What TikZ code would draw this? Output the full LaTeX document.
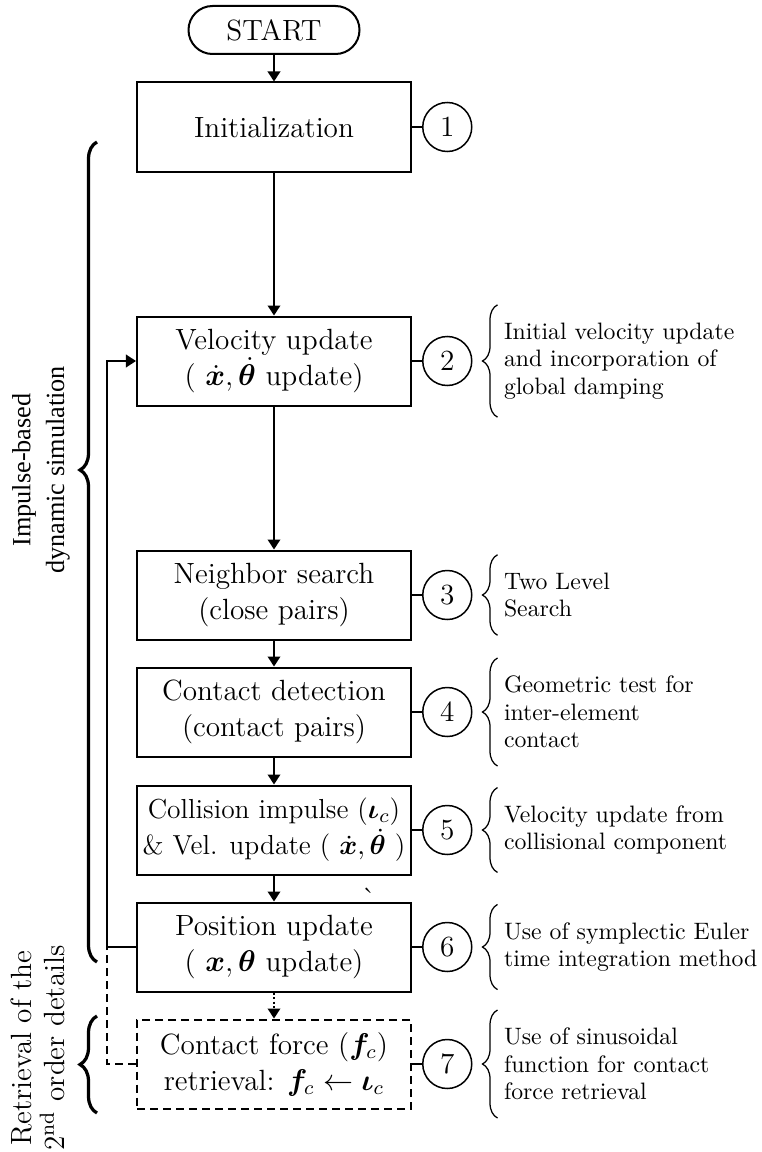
\documentclass[tikz,border=0pt]{standalone}
\usepackage{amsmath,bm}
\usepackage{fontspec}
\newfontfamily\timesfont{Liberation Serif}
\usetikzlibrary{positioning,arrows.meta,calc,decorations.pathreplacing}
\newcommand{\mainsize}{\fontsize{11.7}{14.4}\selectfont}
\newcommand{\notesize}{\fontsize{9.5}{11}\selectfont}
\tikzset{
  stepbox/.style={draw,line width=0.8pt,minimum width=109.6pt,minimum height=35.6pt,
    align=center,inner sep=1pt,font=\mainsize},
  numcirc/.style={draw,circle,line width=0.6pt,minimum size=19.6pt,inner sep=0pt,font=\mainsize},
  note/.style={align=left,inner xsep=2.4pt,inner ysep=7pt,font=\notesize},
  flow/.style={-{Triangle[width=5pt,length=4pt]},line width=0.8pt},
  curly/.style={decorate,decoration={brace,amplitude=6pt}},
}

\begin{document}
\begin{tikzpicture}[x=0.4pt,y=-0.4pt]
\useasboundingbox (0,0) rectangle (761,1152);

% main flow
\node[draw,line width=0.8pt,rounded corners=9.6pt,minimum width=68.4pt,minimum height=19.2pt,
  font=\mainsize] (start) at (274,30) {START};
\node[stepbox] (init) at (274,127) {Initialization};
\node[stepbox] (velo) at (274,361) {Velocity update\\( $\dot{\bm{x}},\dot{\bm{\theta}}$ update)};
\node[stepbox] (nbr)  at (274,595) {Neighbor search\\(close pairs)};
\node[stepbox] (cdet) at (274,712) {Contact detection\\(contact pairs)};
\node[stepbox,inner sep=0pt,font=\fontsize{11}{14.4}\selectfont] (coll) at (274,830)
  {Collision impulse ($\bm{\iota}_c$)\\\& Vel. update ( $\dot{\bm{x}},\dot{\bm{\theta}}$ )};
\node[stepbox] (pos)  at (274,947) {Position update\\( $\bm{x},\bm{\theta}$ update)};
\node[stepbox,dash pattern=on 3.2pt off 2pt] (retr) at (274,1064)
  {Contact force ($\bm{f}_c$)\\retrieval: $\bm{f}_c\leftarrow\bm{\iota}_c$};
\node[font=\mainsize,inner sep=0pt] (tick) at (369,898) {\`{}};

\draw[flow] (start) -- (init);
\draw[flow] (init) -- (velo);
\draw[flow] (velo) -- (nbr);
\draw[flow] (nbr) -- (cdet);
\draw[flow] (cdet) -- (coll);
\draw[flow] (coll) -- (pos);
\draw[flow,densely dotted] (pos) -- (retr);
\draw[flow] (pos.west) -- ++(-29,0) |- (velo.west);
\draw[line width=0.6pt,dash pattern=on 3.2pt off 2pt] (retr.west) -| ($(pos.west)+(-29,0)$);

% step numbers
\foreach \b/\n in {init/1,velo/2,nbr/3,cdet/4,coll/5,pos/6,retr/7}{
  \node[numcirc,right=4pt of \b] (c\n) {\n};
  \draw[line width=0.8pt] (\b.east) -- (c\n);
}

% notes
\foreach \n/\txt in {2/{Initial velocity update\\and incorporation of\\global damping},
    3/{Two Level\\Search},
    4/{Geometric test for\\inter-element\\contact},
    5/{Velocity update from\\collisional component},
    6/{Use of symplectic Euler\\time integration method},
    7/{Use of sinusoidal\\function for contact\\force retrieval}}{
  \node[note,right=10pt of c\n] (n\n) {\txt};
  \draw[curly,line width=0.5pt] (n\n.south west) -- (n\n.north west);
}

% left labels
\coordinate (simtop) at (97,142);
\coordinate (simbot) at (97,962);
\draw[curly,line width=1.3pt,decoration={amplitude=6.8pt,aspect=0.6}] (simbot) -- (simtop);
\node[rotate=90,align=center,font=\timesfont\fontsize{10.5}{13.5}\selectfont] (simlbl) at (41,470)
  {Impulse-based\\dynamic simulation};
\coordinate (rettop) at (97,1016);
\coordinate (retbot) at (97,1113);
\draw[curly,line width=1.3pt,decoration={amplitude=6.8pt}] (retbot) -- (rettop);
\node[rotate=90,align=center,font=\fontsize{11.7}{13.2}\selectfont] (retlbl) at (38,1048)
  {Retrieval of the\\2\textsuperscript{nd} order details};
\end{tikzpicture}
\end{document}
